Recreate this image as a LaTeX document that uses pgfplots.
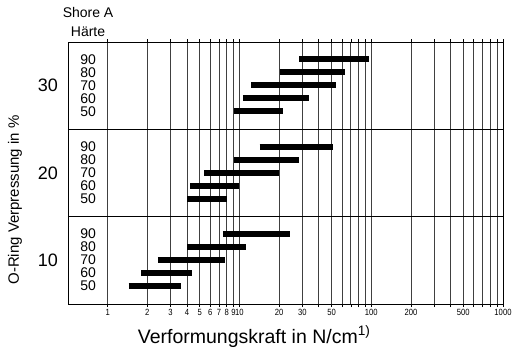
\documentclass[border=0pt]{standalone}
\usepackage{fontspec}
\setmainfont{Liberation Sans}
\newfontfamily\narrowfont[FakeStretch=0.85]{Liberation Sans}
\usepackage{pgfplots}
\pgfplotsset{compat=1.18}
\begin{document}
\begin{tikzpicture}[
  lab/.style={font=\fontsize{14}{14}\selectfont, anchor=center},
  sec/.style={font=\fontsize{18}{18}\selectfont, anchor=center, xshift=-20pt},
  bar/.style={black, line width=5.8pt, line cap=butt, no markers, solid},
]
\useasboundingbox (-68pt,-45pt) rectangle (446pt,304pt);
\begin{axis}[
  at={(0pt,0pt)}, anchor=south west,
  scale only axis, width=435pt, height=262pt,
  xmode=log, xmin=0.5, xmax=1000, ymin=0, ymax=3,
  clip=false,
  axis line style={line width=0.8pt, black},
  xtick={1,2,3,4,5,6,7,8,9,10,20,30,40,50,60,70,80,90,100,200,300,400,500,600,700,800,900,1000},
  xticklabels={1,2,3,4,5,6,7,8,9,10,20,30,,50,,,,,100,200,,,500,,,,,1000},
  xticklabel style={font=\narrowfont\fontsize{9}{9}\selectfont, inner sep=1pt, yshift=-1pt},
  tick align=outside, major tick length=3pt,
  x tick style={black, line width=0.6pt},
  minor xtick={},
  ytick={1,2}, yticklabels={}, y tick style={draw=none},
  xmajorgrids, ymajorgrids,
  x grid style={black!75, line width=0.7pt},
  y grid style={black, line width=0.8pt},
  xlabel={Verformungskraft in N/cm\textsuperscript{1)}},
  xlabel style={at={(axis description cs:0.428,0)}, anchor=base, yshift=-39pt, font=\fontsize{19.5}{21}\selectfont},
  ylabel={O-Ring Verpressung in \%},
  ylabel style={at={(axis description cs:-0.1218,0.397)}, anchor=center, font=\fontsize{15}{16}\selectfont},
]
% 10 %
\addplot[bar] coordinates {(1.44,0.206) (3.6,0.206)};
\addplot[bar] coordinates {(1.8,0.355) (4.4,0.355)};
\addplot[bar] coordinates {(2.4,0.504) (7.8,0.504)};
\addplot[bar] coordinates {(4.0,0.653) (11.2,0.653)};
\addplot[bar] coordinates {(7.5,0.802) (24,0.802)};
% 20 %
\addplot[bar] coordinates {(4.0,1.206) (8.1,1.206)};
\addplot[bar] coordinates {(4.25,1.355) (10,1.355)};
\addplot[bar] coordinates {(5.4,1.504) (20,1.504)};
\addplot[bar] coordinates {(9.1,1.653) (28.5,1.653)};
\addplot[bar] coordinates {(14.2,1.802) (51.5,1.802)};
% 30 %
\addplot[bar] coordinates {(9.05,2.206) (21.5,2.206)};
\addplot[bar] coordinates {(10.6,2.355) (34,2.355)};
\addplot[bar] coordinates {(12.3,2.504) (54,2.504)};
\addplot[bar] coordinates {(20.2,2.653) (63.5,2.653)};
\addplot[bar] coordinates {(28.5,2.802) (96,2.802)};
% section labels
\node[sec] at (axis cs:0.5,0.5) {10};
\node[sec] at (axis cs:0.5,1.5) {20};
\node[sec] at (axis cs:0.5,2.5) {30};
% hardness labels
\node[lab] at (axis cs:0.71,0.206) {50};
\node[lab] at (axis cs:0.71,0.355) {60};
\node[lab] at (axis cs:0.71,0.504) {70};
\node[lab] at (axis cs:0.71,0.653) {80};
\node[lab] at (axis cs:0.71,0.802) {90};
\node[lab] at (axis cs:0.71,1.206) {50};
\node[lab] at (axis cs:0.71,1.355) {60};
\node[lab] at (axis cs:0.71,1.504) {70};
\node[lab] at (axis cs:0.71,1.653) {80};
\node[lab] at (axis cs:0.71,1.802) {90};
\node[lab] at (axis cs:0.71,2.206) {50};
\node[lab] at (axis cs:0.71,2.355) {60};
\node[lab] at (axis cs:0.71,2.504) {70};
\node[lab] at (axis cs:0.71,2.653) {80};
\node[lab] at (axis cs:0.71,2.802) {90};
\node[font=\fontsize{14}{19}\selectfont, align=center, anchor=center] at (axis cs:0.71,3) [yshift=20.5pt] {Shore A\\Härte};
\end{axis}
\end{tikzpicture}
\end{document}
